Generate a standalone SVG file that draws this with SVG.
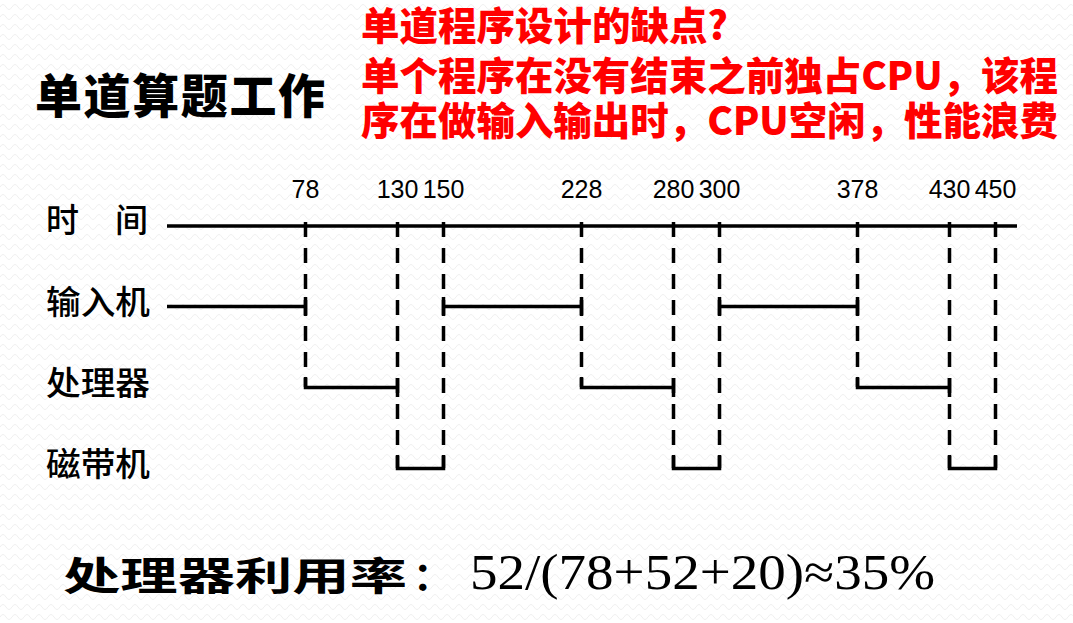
<svg xmlns="http://www.w3.org/2000/svg" width="1073" height="623" viewBox="0 0 1073 623">
<defs>
<pattern id="bgp" width="12" height="10" patternUnits="userSpaceOnUse">
<path d="M0 7 Q3 2 6 7 T12 7" fill="none" stroke="#efefef" stroke-width="1"/>
</pattern>
<style>
.solid{stroke:#000;stroke-width:3.5;fill:none}
.dash{stroke:#000;stroke-width:3.5;fill:none;stroke-dasharray:15 11}
.num{font-family:"Liberation Sans",Arial,sans-serif;font-size:25px;fill:#000;text-anchor:middle}
.lab{font-family:"Noto Sans CJK SC",sans-serif;font-size:33px;font-weight:500;fill:#000}
.red{font-family:"Noto Sans CJK SC",sans-serif;font-size:39px;font-weight:900;fill:#ff0000}
</style>
</defs>
<rect width="1073" height="623" fill="#ffffff"/>
<rect width="1073" height="623" fill="url(#bgp)"/>

<g id="title">
<text x="35" y="113" font-family="'Noto Sans CJK SC',sans-serif" font-size="47" font-weight="900" fill="#000" textLength="290" lengthAdjust="spacing">单道算题工作</text>
</g>

<g id="question">
<text class="red" x="361" y="40" textLength="367" lengthAdjust="spacingAndGlyphs">单道程序设计的缺点?</text>
<text class="red" x="361" y="90" textLength="697" lengthAdjust="spacingAndGlyphs">单个程序在没有结束之前独占CPU，该程</text>
<text class="red" x="361" y="135" textLength="697" lengthAdjust="spacingAndGlyphs">序在做输入输出时，CPU空闲，性能浪费</text>
</g>

<g id="row-labels">
<text class="lab" x="46" y="232">时</text>
<text class="lab" x="115" y="232">间</text>
<text class="lab" x="46" y="314" textLength="104" lengthAdjust="spacingAndGlyphs">输入机</text>
<text class="lab" x="46" y="395" textLength="104" lengthAdjust="spacingAndGlyphs">处理器</text>
<text class="lab" x="46" y="476" textLength="104" lengthAdjust="spacingAndGlyphs">磁带机</text>
</g>

<g id="time-labels">
<text class="num" x="305.5" y="198">78</text>
<text class="num" x="397.5" y="198">130</text>
<text class="num" x="443.5" y="198">150</text>
<text class="num" x="581.5" y="198">228</text>
<text class="num" x="673.5" y="198">280</text>
<text class="num" x="719.5" y="198">300</text>
<text class="num" x="857.5" y="198">378</text>
<text class="num" x="949.5" y="198">430</text>
<text class="num" x="995.5" y="198">450</text>
</g>

<g id="connectors">
<line id="timeline" class="solid" x1="167" y1="226" x2="1017" y2="226" stroke-width="4"/>
<line class="dash" x1="305.5" y1="222" x2="305.5" y2="387"/>
<line class="dash" x1="397.5" y1="222" x2="397.5" y2="468"/>
<line class="dash" x1="443.5" y1="222" x2="443.5" y2="468"/>
<line class="dash" x1="581.5" y1="222" x2="581.5" y2="387"/>
<line class="dash" x1="673.5" y1="222" x2="673.5" y2="468"/>
<line class="dash" x1="719.5" y1="222" x2="719.5" y2="468"/>
<line class="dash" x1="857.5" y1="222" x2="857.5" y2="387"/>
<line class="dash" x1="949.5" y1="222" x2="949.5" y2="468"/>
<line class="dash" x1="995.5" y1="222" x2="995.5" y2="468"/>
<line class="solid" x1="167" y1="306.5" x2="305.5" y2="306.5"/>
<line class="solid" x1="305.5" y1="297" x2="305.5" y2="316" stroke-width="3"/>
<line class="solid" x1="443.5" y1="306.5" x2="581.5" y2="306.5"/>
<line class="solid" x1="443.5" y1="297" x2="443.5" y2="316" stroke-width="3"/>
<line class="solid" x1="581.5" y1="297" x2="581.5" y2="316" stroke-width="3"/>
<line class="solid" x1="719.5" y1="306.5" x2="857.5" y2="306.5"/>
<line class="solid" x1="719.5" y1="297" x2="719.5" y2="316" stroke-width="3"/>
<line class="solid" x1="857.5" y1="297" x2="857.5" y2="316" stroke-width="3"/>
<path class="solid" d="M305.5 377 V387.5 H397.5 M397.5 378 V397"/>
<path class="solid" d="M581.5 377 V387.5 H673.5 M673.5 378 V397"/>
<path class="solid" d="M857.5 377 V387.5 H949.5 M949.5 378 V397"/>
<path class="solid" d="M397.5 455 V468.5 H443.5 V455"/>
<path class="solid" d="M673.5 455 V468.5 H719.5 V455"/>
<path class="solid" d="M949.5 455 V468.5 H995.5 V455"/>
</g>

<g id="formula">
<text x="63" y="590" font-family="'Noto Sans CJK SC',sans-serif" font-size="39" font-weight="700" fill="#000" textLength="344" lengthAdjust="spacingAndGlyphs">处理器利用率</text>
<text x="413" y="590" font-family="'Noto Sans CJK SC',sans-serif" font-size="39" font-weight="700" fill="#000">：</text>
<text x="470" y="589" font-family="'Liberation Serif','Times New Roman',serif" font-size="50" fill="#000" textLength="465" lengthAdjust="spacingAndGlyphs">52/(78+52+20)≈35%</text>
</g>
</svg>
